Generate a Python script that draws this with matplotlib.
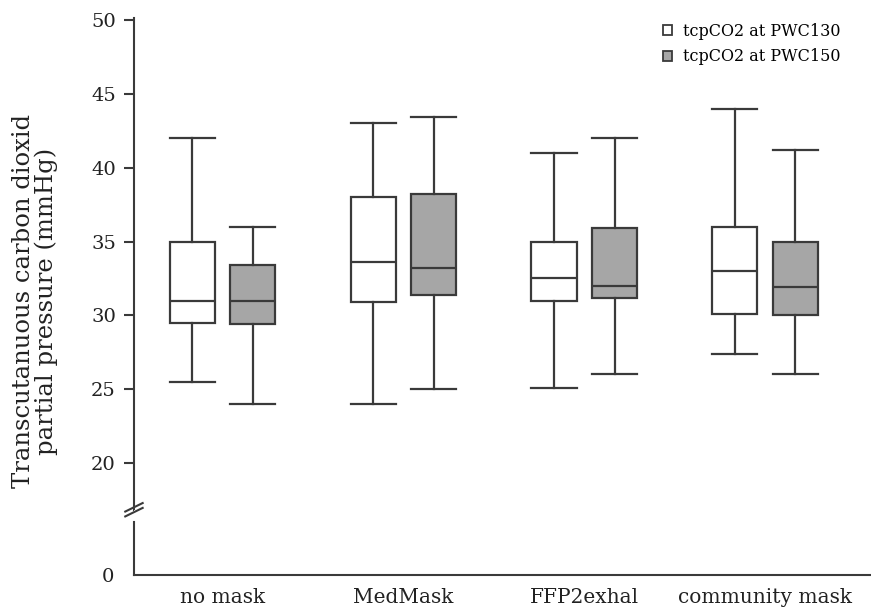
import matplotlib.pyplot as plt
from matplotlib.patches import Patch

groups = ['no mask', 'MedMask', 'FFP2exhal', 'community mask']
series = ['tcpCO2 at PWC130', 'tcpCO2 at PWC150']
# [whislo, q1, med, q3, whishi] per group
pwc130 = [[25.5, 29.5, 31.0, 35.0, 42.0],
          [24.0, 30.9, 33.6, 38.0, 43.0],
          [25.1, 31.0, 32.5, 35.0, 41.0],
          [27.4, 30.1, 33.0, 36.0, 44.0]]
pwc150 = [[24.0, 29.4, 31.0, 33.4, 36.0],
          [25.0, 31.4, 33.2, 38.2, 43.4],
          [26.0, 31.2, 32.0, 35.9, 42.0],
          [26.0, 30.0, 31.9, 35.0, 41.2]]

plt.rcParams['font.family'] = ['DejaVu Serif']
line_c = '#3a3a3a'
fills = ['white', '#a6a6a6']

fig = plt.figure(figsize=(8.71, 6.09), dpi=100)
ax = fig.add_axes([0.1538, 0.1626, 0.845, 0.8079])
ax0 = fig.add_axes([0.1538, 0.0558, 0.845, 0.1067], sharex=ax)

for k, data in enumerate([pwc130, pwc150]):
    stats = [dict(whislo=d[0], q1=d[1], med=d[2], q3=d[3], whishi=d[4], fliers=[])
             for d in data]
    pos = [i + (k - 0.5) * 0.335 for i in range(len(groups))]
    ax.bxp(stats, positions=pos, widths=0.25, patch_artist=True, showfliers=False,
           boxprops=dict(facecolor=fills[k], edgecolor=line_c, linewidth=1.6),
           medianprops=dict(color=line_c, linewidth=1.6),
           whiskerprops=dict(color=line_c, linewidth=1.6),
           capprops=dict(color=line_c, linewidth=1.6), capwidths=0.25,
           manage_ticks=False)

ax.set_xlim(-0.49, 3.58)
ax.set_ylim(16.82, 50.14)
ax.set_yticks([20, 25, 30, 35, 40, 45, 50])
for s in ['top', 'right', 'bottom']:
    ax.spines[s].set_visible(False)
ax.spines['left'].set_color(line_c)
ax.spines['left'].set_linewidth(1.5)
ax.tick_params(axis='y', direction='out', length=7, width=1.5, color=line_c,
               labelsize=14, pad=6, labelcolor='#222222')
ax.tick_params(axis='x', bottom=False, labelbottom=False)

ax0.set_ylim(0, 4.4)
ax0.set_yticks([0])
for s in ['top', 'right']:
    ax0.spines[s].set_visible(False)
for s in ['left', 'bottom']:
    ax0.spines[s].set_color(line_c)
    ax0.spines[s].set_linewidth(1.5)
ax0.spines['left'].set_bounds(0, 3.6)
ax0.tick_params(axis='y', length=0, labelsize=14, pad=14, labelcolor='#222222')
ax0.set_xticks(range(len(groups)))
ax0.set_xticklabels(groups)
ax0.tick_params(axis='x', length=0, labelsize=14.5, pad=9, labelcolor='#222222')

# break marks on the left spine
kw = dict(color=line_c, linewidth=1.5, clip_on=False, transform=fig.transFigure)
x0 = 0.1538
for dy in [0.0, 0.008]:
    fig.add_artist(plt.Line2D([x0 - 0.01, x0 + 0.01],
                              [0.152 + dy, 0.166 + dy], **kw))

fig.text(0.040, 0.505, 'Transcutanuous carbon dioxid\npartial pressure (mmHg)',
         rotation=90, ha='center', va='center', fontsize=17.5, linespacing=0.95,
         color='#222222')

handles = [Patch(facecolor=fills[k], edgecolor=line_c, linewidth=1.3, label=series[k])
           for k in range(2)]
ax.legend(handles=handles, loc='upper right', bbox_to_anchor=(0.98, 1.02),
          frameon=False, fontsize=11.5, handlelength=0.6, handleheight=0.6,
          handletextpad=0.7, labelspacing=0.55)

fig.savefig('out.png', dpi=100)
